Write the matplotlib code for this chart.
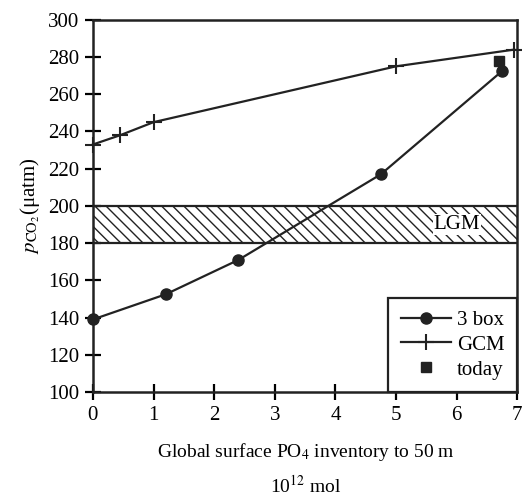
import matplotlib
matplotlib.use('Agg')
import matplotlib.pyplot as plt

plt.rcParams['font.family'] = 'Liberation Serif'
plt.rcParams['mathtext.fontset'] = 'stix'
plt.rcParams['hatch.linewidth'] = 1.0

box_x = [0, 1.2, 2.4, 4.75, 6.75]
box_y = [139, 152.5, 171, 217, 272.5]
gcm_x = [0, 0.45, 1.0, 5.0, 6.95]
gcm_y = [233, 238, 245, 275, 284]
today_x = [6.7]
today_y = [278]
lgm_low, lgm_high = 180, 200

fig = plt.figure(figsize=(5.22, 4.95), dpi=100)
ax = fig.add_axes([0.178, 0.208, 0.813, 0.752])

ax.fill_between([0, 7], lgm_low, lgm_high, facecolor='white', edgecolor='#222222',
                hatch='\\\\\\', linewidth=0)
ax.axhline(lgm_low, color='#222222', lw=1.6)
ax.axhline(lgm_high, color='#222222', lw=1.6)
ax.text(6.0, 190, 'LGM', fontsize=15, ha='center', va='center',
        bbox=dict(facecolor='white', edgecolor='none', pad=0.5))

ax.plot(box_x, box_y, '-o', color='#222222', lw=1.6, ms=8, label='3 box', clip_on=False)
ax.plot(gcm_x, gcm_y, '-+', color='#222222', lw=1.6, ms=11, mew=1.5, label='GCM', clip_on=False)
ax.plot(today_x, today_y, 's', color='#222222', ms=7, label='today', linestyle='none')

ax.set_xlim(0, 7)
ax.set_ylim(100, 300)
ax.set_xticks(range(0, 8))
ax.set_yticks(range(100, 301, 20))
ax.tick_params(direction='inout', length=12, width=1.6, labelsize=15, pad=4)
for s in ax.spines.values():
    s.set_linewidth(1.8)
    s.set_color('#222222')

fig.text(0.585, 0.087, 'Global surface PO$_4$ inventory to 50\u2009m', fontsize=14,
         ha='center', va='center')
fig.text(0.585, 0.02, '10$^{12}$ mol', fontsize=14, ha='center', va='center')
ax.set_ylabel('$p_{\\mathrm{CO_2}}$(\u03bcatm)', fontsize=15, labelpad=4)

leg = ax.legend(loc='lower right', fontsize=15, frameon=True, fancybox=False,
                framealpha=1, edgecolor='#222222', borderaxespad=0, handlelength=2.4,
                labelspacing=0.25, handletextpad=0.3, borderpad=0.6)
leg.get_frame().set_linewidth(1.6)
leg.set_zorder(5)

fig.savefig('out.png', dpi=100)
